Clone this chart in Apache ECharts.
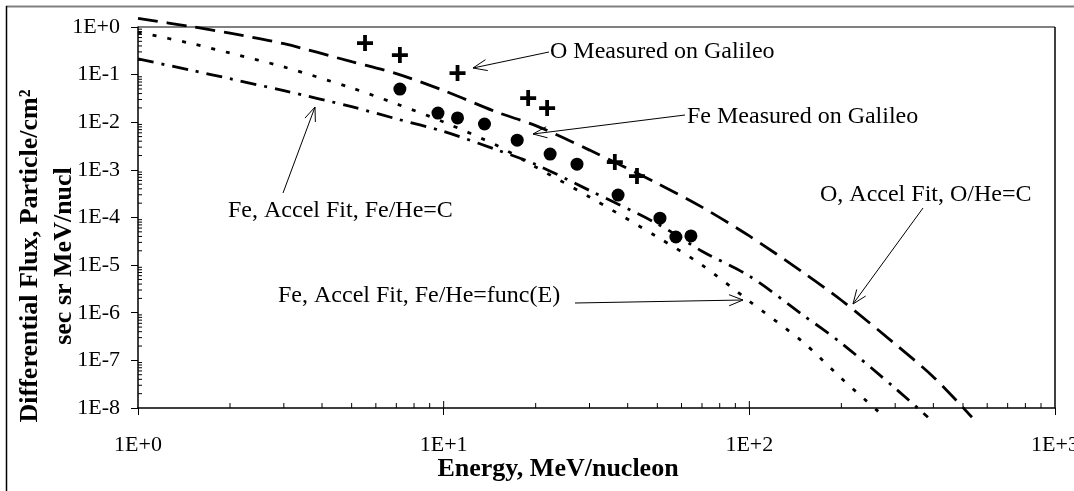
<!DOCTYPE html>
<html>
<head>
<meta charset="utf-8">
<script src="https://cdn.jsdelivr.net/npm/echarts@6/dist/echarts.min.js"></script>
<style>
  html, body { margin: 0; padding: 0; background: #fff; }
  #chart { width: 1074px; height: 491px; }
</style>
</head>
<body>
<div id="chart"></div>
<script>
  // accel fit curves, energy in MeV/nucleon
  var fitEnergyO = [1, 1.5, 2, 3, 5, 7, 10, 15, 20, 30, 50, 70, 100, 150, 200, 300, 400, 535]
  var fitFluxO = [1.51, 1.02, 0.74, 0.446, 0.187, 0.105, 0.0463, 0.0161, 0.0085, 0.0026, 5.2e-4, 1.65e-4, 4.1e-5, 7.0e-6, 1.83e-6, 2.2e-7, 4.5e-8, 6.4e-9]

  var fitEnergyFeC = [1, 1.5, 2, 3, 5, 7, 10, 15, 20, 30, 50, 70, 100, 150, 200, 300, 384]
  var fitFluxFeC = [0.213, 0.123, 0.082, 0.046, 0.0212, 0.0118, 0.0064, 0.0026, 0.0013, 3.7e-4, 7.4e-5, 1.96e-5, 5.9e-6, 8.9e-7, 2.3e-7, 2.6e-8, 6.4e-9]

  var fitEnergyFeE = [1, 1.5, 2, 3, 5, 7, 10, 15, 20, 30, 50, 70, 100, 150, 200, 273]
  var fitFluxFeE = [0.785, 0.448, 0.284, 0.145, 0.0524, 0.0244, 0.0101, 0.0032, 0.00115, 2.7e-4, 3.9e-5, 1.0e-5, 1.75e-6, 2.4e-7, 4.2e-8, 7e-9]

  // Galileo measurements
  var galEnergyO = [5.53, 7.19, 11.1, 18.9, 21.8, 36.3, 42.9]
  var galFluxO = [0.461, 0.258, 0.108, 0.0322, 0.0198, 1.46e-3, 7.4e-4]
  var galEnergyFe = [7.19, 9.58, 11.1, 13.6, 17.4, 22.3, 27.3, 37.2, 51.0, 57.5, 64.4]
  var galFluxFe = [0.0498, 0.0156, 0.0123, 9.2e-3, 4.2e-3, 2.15e-3, 1.32e-3, 2.96e-4, 9.7e-5, 3.9e-5, 4.1e-5]

  var xTickLabels = ['1E+0', '1E+1', '1E+2', '1E+3']
  var yTickLabels = ['1E-8', '1E-7', '1E-6', '1E-5', '1E-4', '1E-3', '1E-2', '1E-1', '1E+0']

  var serif = '"Liberation Serif", "Times New Roman", serif'
  var plusPath = 'path://M6.5,0H10.5V6.5H17V10.5H10.5V17H6.5V10.5H0V6.5H6.5Z'

  function pairs (xs, ys) {
    return xs.map(function (x, i) { return [x, ys[i]] })
  }

  // minor ticks (2..9 of each decade), drawn inside the plot
  var xMinor = []
  var yMinor = []
  for (var d = 0; d < 3; d++) {
    for (var k = 2; k <= 9; k++) xMinor.push([k * Math.pow(10, d), 1e-8, 5])
    if (d > 0) xMinor.push([Math.pow(10, d), 1e-8, 7])
  }
  for (var e = -8; e < 0; e++) {
    for (var m = 2; m <= 9; m++) yMinor.push([1, m * Math.pow(10, e), 4])
  }

  function arrowHead (from, to) {
    var a = Math.atan2(to[1] - from[1], to[0] - from[0])
    var len = 15, ang = 0.38
    return [
      [to[0] - len * Math.cos(a - ang), to[1] - len * Math.sin(a - ang)],
      to,
      [to[0] - len * Math.cos(a + ang), to[1] - len * Math.sin(a + ang)]
    ]
  }

  var notes = [
    { text: 'O Measured on Galileo', pos: [550, 52], from: [549, 52], to: [473, 68] },
    { text: 'Fe Measured on Galileo', pos: [687, 117], from: [685, 115], to: [533, 134] },
    { text: 'Fe, Accel Fit, Fe/He=C', pos: [228, 211], from: [283, 193], to: [315, 107] },
    { text: 'O, Accel Fit, O/He=C', pos: [820, 195], from: [923, 208], to: [853, 304] },
    { text: 'Fe, Accel Fit, Fe/He=func(E)', pos: [278, 296], from: [575, 303], to: [743, 300] }
  ]

  var graphic = [
    // outer frame
    { type: 'line', shape: { x1: 6, y1: 6.5, x2: 1074, y2: 6.5 }, style: { stroke: '#808080', lineWidth: 2 } },
    { type: 'line', shape: { x1: 6.5, y1: 6, x2: 6.5, y2: 491 }, style: { stroke: '#000', lineWidth: 1.5 } },
    // plot area border
    { type: 'line', shape: { x1: 138, y1: 27, x2: 1055, y2: 27 }, style: { stroke: '#808080', lineWidth: 2 } },
    { type: 'line', shape: { x1: 1055, y1: 27, x2: 1055, y2: 408 }, style: { stroke: '#000', lineWidth: 1.5 } },
    // axis titles
    { type: 'text', x: 30, y: 256, rotation: Math.PI / 2,
      style: { text: 'Differential Flux, Particle/cm²', font: 'bold 26px ' + serif, fill: '#000', align: 'center', verticalAlign: 'middle' } },
    { type: 'text', x: 64, y: 256, rotation: Math.PI / 2,
      style: { text: 'sec sr MeV/nucl', font: 'bold 26px ' + serif, fill: '#000', align: 'center', verticalAlign: 'middle' } },
    { type: 'text', x: 558, y: 469,
      style: { text: 'Energy, MeV/nucleon', font: 'bold 26px ' + serif, fill: '#000', align: 'center', verticalAlign: 'middle' } }
  ]
  notes.forEach(function (n) {
    graphic.push({ type: 'text', x: n.pos[0], y: n.pos[1], z: 10,
      style: { text: n.text, font: '24px ' + serif, fill: '#000', align: 'left', verticalAlign: 'middle' } })
    graphic.push({ type: 'line', z: 10, shape: { x1: n.from[0], y1: n.from[1], x2: n.to[0], y2: n.to[1] },
      style: { stroke: '#000', lineWidth: 1 } })
    graphic.push({ type: 'polyline', z: 10, shape: { points: arrowHead(n.from, n.to) },
      style: { stroke: '#000', fill: null, lineWidth: 1 } })
  })

  function fitLine (name, xs, ys, dash) {
    return {
      name: name,
      type: 'line',
      data: pairs(xs, ys),
      symbol: 'none',
      smooth: 0.3,
      clip: false,
      lineStyle: { color: '#000', width: 2.8, type: dash }
    }
  }

  var option = {
    animation: false,
    backgroundColor: '#fff',
    grid: { left: 138, right: 19, top: 27, bottom: 83, outerBoundsMode: 'none', containLabel: false },
    xAxis: {
      type: 'log',
      logBase: 10,
      min: 1,
      max: 1000,
      splitNumber: 3,
      axisLine: { lineStyle: { color: '#000', width: 1.5 } },
      axisTick: { length: 7, lineStyle: { color: '#000' } },
      axisLabel: {
        color: '#000', fontFamily: serif, fontSize: 22, margin: 26, showMaxLabel: true, hideOverlap: false,
        formatter: function (v) { return xTickLabels[Math.round(Math.log10(v))] }
      },
      splitLine: { show: false }
    },
    yAxis: {
      type: 'log',
      logBase: 10,
      min: 1e-8,
      max: 1,
      splitNumber: 8,
      axisLine: { lineStyle: { color: '#000', width: 1.5 } },
      axisTick: { length: 7, lineStyle: { color: '#000' } },
      axisLabel: {
        color: '#000', fontFamily: serif, fontSize: 22, margin: 18,
        formatter: function (v) { return yTickLabels[Math.round(Math.log10(v)) + 8] }
      },
      splitLine: { show: false }
    },
    graphic: graphic,
    series: [
      fitLine('O, Accel Fit, O/He=C', fitEnergyO, fitFluxO, [20, 9]),
      fitLine('Fe, Accel Fit, Fe/He=C', fitEnergyFeC, fitFluxFeC, [16, 8, 3, 8]),
      fitLine('Fe, Accel Fit, Fe/He=func(E)', fitEnergyFeE, fitFluxFeE, [4, 11]),
      {
        name: 'O Measured on Galileo',
        type: 'scatter',
        data: pairs(galEnergyO, galFluxO),
        symbol: plusPath,
        symbolSize: 16,
        itemStyle: { color: '#000', opacity: 1 },
        z: 5
      },
      {
        name: 'Fe Measured on Galileo',
        type: 'scatter',
        data: pairs(galEnergyFe, galFluxFe),
        symbol: 'circle',
        symbolSize: 13,
        itemStyle: { color: '#000', opacity: 1 },
        z: 5
      },
      {
        type: 'custom',
        silent: true,
        clip: false,
        data: xMinor,
        renderItem: function (params, api) {
          var p = api.coord([api.value(0), api.value(1)])
          return { type: 'line', shape: { x1: p[0], y1: p[1], x2: p[0], y2: p[1] - api.value(2) },
            style: { stroke: '#000', lineWidth: 1 } }
        }
      },
      {
        type: 'custom',
        silent: true,
        clip: false,
        data: yMinor,
        renderItem: function (params, api) {
          var p = api.coord([api.value(0), api.value(1)])
          return { type: 'line', shape: { x1: p[0], y1: p[1], x2: p[0] + api.value(2), y2: p[1] },
            style: { stroke: '#000', lineWidth: 1 } }
        }
      }
    ]
  }

  var chart = echarts.init(document.getElementById('chart'))
  chart.setOption(option)
  window.addEventListener('resize', function () {
    chart.resize()
  })
</script>
</body>
</html>
